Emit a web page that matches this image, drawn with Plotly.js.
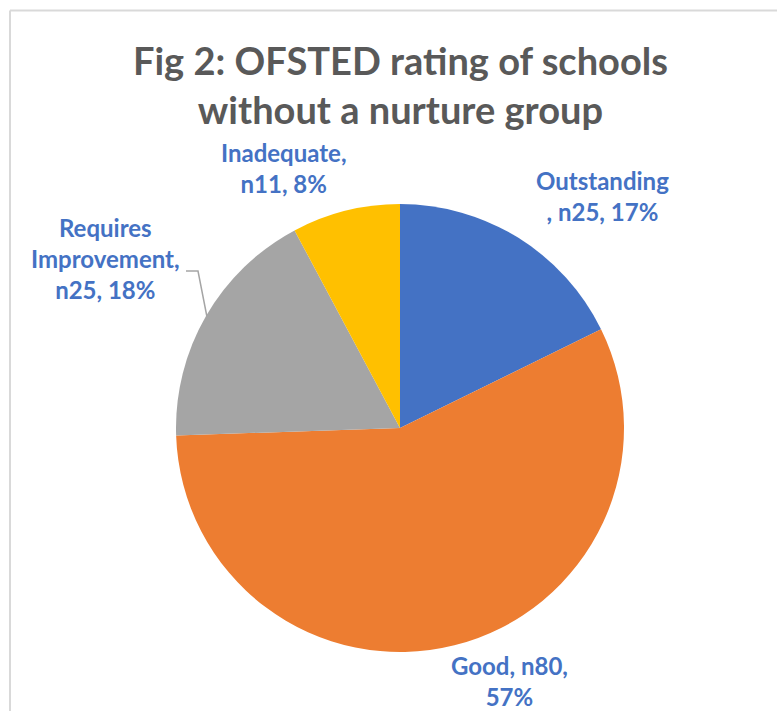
<!DOCTYPE html>
<html>
<head>
<meta charset="utf-8">
<script src="https://cdn.plot.ly/plotly-3.0.1.min.js"></script>
<style>
html,body{margin:0;padding:0;background:#fff;}
#chart{width:777px;height:711px;}
</style>
</head>
<body>
<div id="chart"></div>
<script>
var categories = ["Outstanding", "Good", "Requires Improvement", "Inadequate"];
var counts = [25, 80, 25, 11];
var percents = [17, 57, 18, 8];
var colors = ["#4472C4", "#ED7D31", "#A5A5A5", "#FFC000"];
var titleText = "Fig 2: OFSTED rating of schools<br>without a nurture group";

var W = 777, H = 711;
function px(x){return x / W;}
function py(y){return 1 - y / H;}

var labelText = [
  categories[0] + "<br>, n" + counts[0] + ", " + percents[0] + "%",
  categories[1] + ", n" + counts[1] + ",<br>" + percents[1] + "%",
  "Requires<br>Improvement,<br>n" + counts[2] + ", " + percents[2] + "%",
  categories[3] + ",<br>n" + counts[3] + ", " + percents[3] + "%"
];
var labelPos = [[602, 196], [509, 681], [106, 258], [284, 168]];

var labelFont = {family: "Lato, 'Open Sans', sans-serif", size: 24, color: "#4472C4"};

var annotations = labelText.map(function(t, i){
  return {
    text: "<b>" + t + "</b>",
    xref: "paper", yref: "paper",
    x: px(labelPos[i][0]), y: py(labelPos[i][1]),
    xanchor: "center", yanchor: "middle",
    showarrow: false, align: "center",
    font: labelFont
  };
});

annotations.push({
  text: "<b>" + titleText + "</b>",
  xref: "paper", yref: "paper",
  x: px(400), y: py(84),
  xanchor: "center", yanchor: "middle",
  showarrow: false, align: "center",
  font: {family: "Lato, 'Open Sans', sans-serif", size: 38, color: "#595959"}
});

var trace = {
  type: "pie",
  labels: categories,
  values: counts,
  sort: false,
  direction: "clockwise",
  rotation: 0,
  textinfo: "none",
  hoverinfo: "none",
  marker: {colors: colors, line: {width: 0}},
  domain: {x: [px(176), px(624)], y: [py(652), py(204)]},
  showlegend: false
};

var layout = {
  width: W, height: H,
  margin: {l: 0, r: 0, t: 0, b: 0},
  paper_bgcolor: "#ffffff",
  annotations: annotations,
  shapes: [
    {type: "line", xref: "paper", yref: "paper", x0: px(10), x1: 1, y0: py(10.5), y1: py(10.5), line: {color: "#D9D9D9", width: 2}},
    {type: "line", xref: "paper", yref: "paper", x0: px(10), x1: px(10), y0: py(10.5), y1: 0, line: {color: "#D9D9D9", width: 2}},
    {type: "path", xref: "paper", yref: "paper",
     path: "M " + px(186) + "," + py(271) + " L " + px(198) + "," + py(271) + " L " + px(207) + "," + py(317),
     line: {color: "#A5A5A5", width: 1.5}}
  ]
};

Plotly.newPlot("chart", [trace], layout, {displayModeBar: false, staticPlot: true});
</script>
</body>
</html>
